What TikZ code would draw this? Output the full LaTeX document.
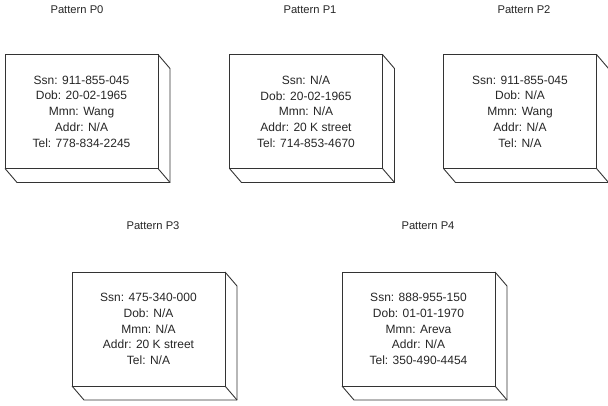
\documentclass[tikz,border=0pt]{standalone}
\usepackage{fontspec}
\setmainfont{Liberation Sans}
\usetikzlibrary{positioning}

\begin{document}
\begin{tikzpicture}[x=1pt, y=-1pt,
		font=\fontsize{12}{15.7}\selectfont,
		pbox/.style={draw=black!80, line width=0.9pt, outer sep=0pt, inner sep=0pt,
				minimum width=153pt, minimum height=114pt, align=center, text=black!85},
		side/.style={draw=black!80, line width=0.9pt, line join=round},
		title/.style={text=black!85, font=\fontsize{11.2}{13}\selectfont}
		]
		\useasboundingbox (0,0) rectangle (608,405);
		% front faces
		\node[pbox] (p0) at (81.5,111.5)
		{Ssn: 911-855-045\\ Dob: 20-02-1965\\ Mmn: Wang\\ Addr: N/A\\ Tel: 778-834-2245};
		\node[pbox] (p1) at (306,111.5)
		{Ssn: N/A\\ Dob: 20-02-1965\\ Mmn: N/A\\ Addr: 20 K street\\ Tel: 714-853-4670};
		\node[pbox] (p2) at (520,111.5)
		{Ssn: 911-855-045\\ Dob: N/A\\ Mmn: Wang\\ Addr: N/A\\ Tel: N/A};
		\node[pbox] (p3) at (148.5,329)
		{Ssn: 475-340-000\\ Dob: N/A\\ Mmn: N/A\\ Addr: 20 K street\\ Tel: N/A};
		\node[pbox] (p4) at (418.5,329)
		{Ssn: 888-955-150\\ Dob: 01-01-1970\\ Mmn: Areva\\ Addr: N/A\\ Tel: 350-490-4454};
		% titles
		\node[title] (t0) at (77,10)   {Pattern P0};
		\node[title] (t1) at (310,10)  {Pattern P1};
		\node[title] (t2) at (524,10)  {Pattern P2};
		\node[title] (t3) at (153,226) {Pattern P3};
		\node[title] (t4) at (428,226) {Pattern P4};
		% depth of the boxes
		\foreach \n in {p0,p1,p2,p3,p4} {
			\draw[side] (\n.north east) -- ++(12,14) -- ++(0,114) -- ++(-153,0)
			-- (\n.south west);
			\draw[side] (\n.south east) -- ++(12,14);
		}
	\end{tikzpicture}
\end{document}
